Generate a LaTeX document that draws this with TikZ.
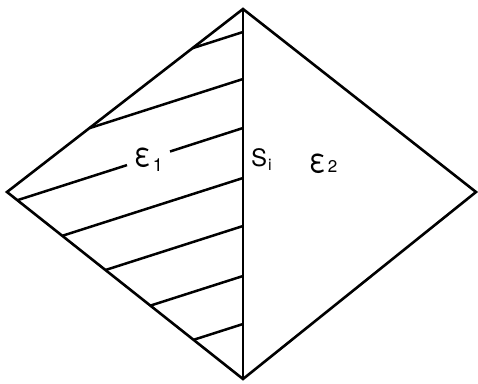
\documentclass[tikz,border=0pt]{standalone}
\usepackage{fontspec}
\setmainfont{TeX Gyre Heros}
\begin{document}
\begin{tikzpicture}[x=1pt,y=-1pt,
  edge/.style={line width=2.6pt,line join=miter},
  hatchline/.style={line width=2.5pt},
  lbl/.style={inner sep=0pt,anchor=base west}]
\useasboundingbox (0,0) rectangle (478,383);
\coordinate (T) at (243,9);
\coordinate (L) at (7,192);
\coordinate (R) at (476,192);
\coordinate (B) at (243,379);
% hatch lines
\coordinate (h0r) at (243,32);  \coordinate (h0l) at (192.5,48.2);
\coordinate (h1r) at (243,79);  \coordinate (h1l) at (89.3,128.2);
\coordinate (h2r) at (243,128); \coordinate (h2l) at (17.4,200.2);
\coordinate (h2a) at (170,151.5); \coordinate (h2b) at (127,165.1);
\coordinate (h3r) at (243,178); \coordinate (h3l) at (62.3,235.8);
\coordinate (h4r) at (243,226); \coordinate (h4l) at (105.5,270);
\coordinate (h5r) at (243,276); \coordinate (h5l) at (150.4,305.6);
\coordinate (h6r) at (243,324); \coordinate (h6l) at (193.6,339.8);
\draw[hatchline] (h0r) -- (h0l);
\draw[hatchline] (h1r) -- (h1l);
\draw[hatchline] (h2r) -- (h2a);
\draw[hatchline] (h2b) -- (h2l);
\draw[hatchline] (h3r) -- (h3l);
\draw[hatchline] (h4r) -- (h4l);
\draw[hatchline] (h5r) -- (h5l);
\draw[hatchline] (h6r) -- (h6l);
\draw[edge] (T) -- (R) -- (B) -- (L) -- cycle;
\draw[edge] (T) -- (B);
% labels
\node[lbl] (e1) at (134,166) {\scalebox{0.95}[1.15]{\fontsize{29}{31}\selectfont ε}\hspace{2pt}\raisebox{-5pt}{\fontsize{18}{20}\selectfont 1}};
\node[lbl] (si) at (251,166.5) {\fontsize{24}{26}\selectfont S\hspace{1pt}\raisebox{-4pt}{\fontsize{16}{18}\selectfont i}};
\node[lbl] (e2) at (309,172.5) {\scalebox{0.95}[1.15]{\fontsize{29}{31}\selectfont ε}\hspace{2pt}{\fontsize{17}{19}\selectfont 2}};
\end{tikzpicture}
\end{document}
